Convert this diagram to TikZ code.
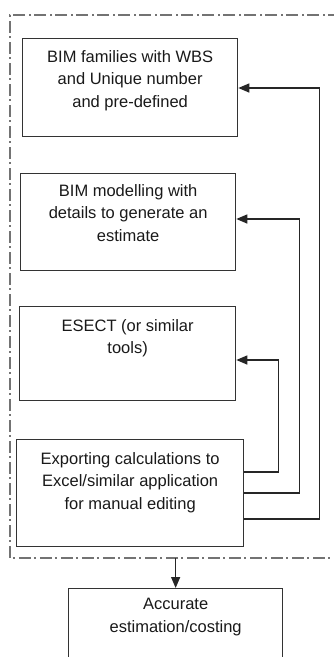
\documentclass[tikz,border=0pt]{standalone}
\usepackage{fontspec}
\setmainfont{Liberation Sans}
\usetikzlibrary{arrows.meta,calc}
\begin{document}
\begin{tikzpicture}[x=1pt,y=-1pt,
  box/.style={draw=black!80,line width=1.3pt,anchor=north west,inner sep=0pt,
    minimum width=#1},
  lbl/.style={anchor=north,align=center,inner sep=0pt,font=\fontsize{16.5}{22.5}\selectfont,text=black!90},
  arr/.style={draw=black!85,line width=1.4pt,-{Triangle[length=11pt,width=9pt]}},
  frame/.style={draw=black!55,line width=1.1pt,dash pattern=on 12pt off 3pt on 2pt off 4pt}]
\useasboundingbox (0,0) rectangle (333,657);
% dash-dot grouping frame (open to the right)
\coordinate (ftr) at (340,15);
\coordinate (ftl) at (10,15);
\coordinate (fbl) at (10,558);
\coordinate (fbr) at (340,558);
\draw[frame] (ftr) -- (ftl) -- (fbl) -- (fbr);
% boxes
\node[box=215pt,minimum height=98pt] (b1) at (22,38) {};
\node[box=215pt,minimum height=97pt] (b2) at (20,173) {};
\node[box=216pt,minimum height=94pt] (b3) at (19,306) {};
\node[box=227pt,minimum height=107pt] (b4) at (16,439) {};
\node[box=214pt,minimum height=90pt] (b5) at (68,588) {};
% labels
\node[lbl] at ($(b1.north)+(0,12)$) {BIM families with WBS\\and Unique number\\and pre-defined};
\node[lbl] at ($(b2.north)+(0,11)$) {BIM modelling with\\details to generate an\\estimate};
\node[lbl] at ($(b3.north)+(0,13)$) {ESECT (or similar\\tools)};
\node[lbl] at ($(b4.north)+(0,13)$) {Exporting calculations to\\Excel/similar application\\for manual editing};
\node[lbl] at ($(b5.north)+(0,10)$) {Accurate\\estimation/costing};
% feedback connectors from the export step
\draw[arr] ($(b4.north east)+(0,33)$) -| ($(b3.north east)+(42,54)$) -- ($(b3.north east)+(0,54)$);
\draw[arr] ($(b4.north east)+(0,54)$) -| ($(b2.north east)+(63,46)$) -- ($(b2.north east)+(0,46)$);
\draw[arr] ($(b4.north east)+(0,80)$) -| ($(b1.north east)+(81,50)$) -- ($(b1.north east)+(0,50)$);
% output arrow
\coordinate (fout) at (b5.north |- fbl);
\draw[arr] (fout) -- (b5.north);
\end{tikzpicture}
\end{document}
